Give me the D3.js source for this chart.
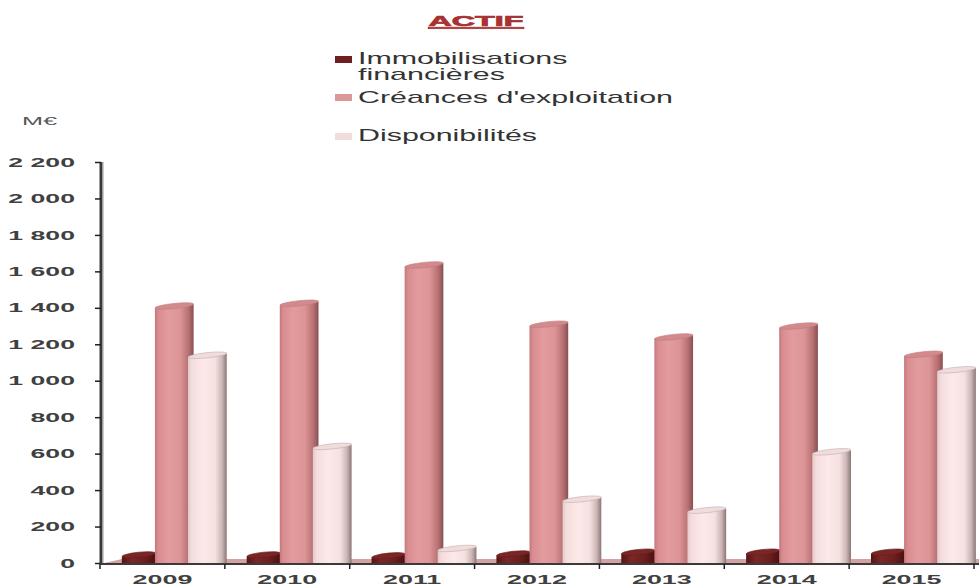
<!DOCTYPE html>
<html>
<head>
<meta charset="utf-8">
<script src="https://cdn.jsdelivr.net/npm/d3@7"></script>
<style>
  html, body { margin: 0; padding: 0; background: #fff; }
  svg { display: block; font-family: "Liberation Sans", Arial, sans-serif; }
</style>
</head>
<body>
<svg id="chart" width="979" height="586"></svg>
<script>
// Actif : trois postes par année (M€)
const years = ["2009", "2010", "2011", "2012", "2013", "2014", "2015"];
const immobilisations = [45, 45, 40, 50, 60, 60, 60];
const creances = [1410, 1425, 1635, 1310, 1240, 1300, 1145];
const disponibilites = [1140, 640, 80, 350, 290, 610, 1060];
const seriesNames = ["Immobilisations financières", "Créances d'exploitation", "Disponibilités"];
const yTicks = [0, 200, 400, 600, 800, 1000, 1200, 1400, 1600, 1800, 2000, 2200];

const svg = d3.select("#chart");
const defs = svg.append("defs");

const fr = d3.formatLocale({ decimal: ",", thousands: " ", grouping: [3], currency: ["", " €"] });
const fmt = fr.format(",");

const x = d3.scaleBand().domain(years).range([100, 974]);
const y = d3.scaleLinear().domain([0, 2200]).range([563, 162]);

// Horizontal shading that gives each column its cylinder look
const styles = [
  { id: "gImmo", stops: [[0, "#551414"], [0.3, "#7c2727"], [0.7, "#6b1e1e"], [1, "#4a1010"]],
    top: "#7a2626", rim: "#6a1d1d", off: 0.175, w: 0.27, swatch: "#6e2020" },
  { id: "gCre", stops: [[0, "#c27679"], [0.08, "#d98c8f"], [0.35, "#e39c9e"], [0.65, "#dc9496"], [0.86, "#b97274"], [1, "#8a4f51"]],
    top: "#d48a8c", rim: "#bf7b7d", off: 0.44, w: 0.31, swatch: "#dc9798" },
  { id: "gDis", stops: [[0, "#e4caca"], [0.1, "#f5dddd"], [0.4, "#fde9e9"], [0.7, "#f6e1e1"], [0.88, "#cdb5b5"], [1, "#8a7676"]],
    top: "#f1dcdc", rim: "#c4afaf", off: 0.705, w: 0.31, swatch: "#f3dcdc" }
];
styles.forEach(s => {
  const g = defs.append("linearGradient").attr("id", s.id)
    .attr("x1", "0%").attr("x2", "100%").attr("y1", "0%").attr("y2", "0%");
  s.stops.forEach(([o, c]) => g.append("stop").attr("offset", o).attr("stop-color", c));
});

// stretched text helper
function stretch(sel, sx) {
  sel.each(function () {
    const t = d3.select(this);
    const tx = +t.attr("x") || 0;
    const ty = +t.attr("y") || 0;
    t.attr("x", 0).attr("y", 0)
     .attr("transform", `translate(${tx},${ty}) scale(${sx},1)`);
  });
}

// Title
const title = svg.append("text").attr("x", 476).attr("y", 26)
  .attr("text-anchor", "middle").attr("font-size", 15).attr("font-weight", "bold")
  .attr("fill", "#a83232").attr("stroke", "#a83232").attr("stroke-width", 0.7)
  .attr("text-decoration", "underline").text("ACTIF");
stretch(title, 2.15);

// Legend
const legend = svg.append("g");
const legRows = [
  { sy: 56, lines: [["Immobilisations", 64], ["financières", 80]] },
  { sy: 94, lines: [["Créances d'exploitation", 103]] },
  { sy: 133, lines: [["Disponibilités", 141]] }
];
legRows.forEach((r, i) => {
  legend.append("rect").attr("x", 335).attr("y", r.sy).attr("width", 17).attr("height", 7)
    .attr("fill", styles[i].swatch);
  r.lines.forEach(([txt, by]) => {
    const t = legend.append("text").attr("x", 358).attr("y", by)
      .attr("font-size", 16).attr("fill", "#333").text(txt);
    stretch(t, 1.9);
  });
});

// Unit label
const unit = svg.append("text").attr("x", 22).attr("y", 125)
  .attr("font-size", 11).attr("fill", "#555").text("M€");
stretch(unit, 2.3);

// Floor
const bw = x.bandwidth();
svg.append("path")
  .attr("d", `M100,564 L979,564 L979,559 L122,559 Z`)
  .attr("fill", "#d3a2a3");

// Columns
const valuesBySeries = [immobilisations, creances, disponibilites];
const base = 563;
const cols = svg.append("g");
years.forEach((yr, i) => {
  styles.forEach((s, k) => {
    const v = valuesBySeries[k][i];
    const x0 = x(yr) + s.off * bw;
    const w = s.w * bw;
    const x1 = x0 + w;
    const yc = y(v);
    const tilt = 2;
    cols.append("path")
      .attr("d", `M${x0},${base} L${x0},${yc + tilt} L${x1},${yc - tilt} L${x1},${base} Z`)
      .attr("fill", `url(#${s.id})`);
    cols.append("ellipse")
      .attr("cx", (x0 + x1) / 2).attr("cy", yc)
      .attr("rx", w / 2).attr("ry", 2.6)
      .attr("transform", `rotate(-6,${(x0 + x1) / 2},${yc})`)
      .attr("fill", s.top).attr("stroke", s.rim).attr("stroke-width", 0.6);
  });
});

// Y axis
const yAxis = svg.append("g").attr("transform", "translate(101,0)")
  .call(d3.axisLeft(y).tickValues(yTicks).tickFormat(fmt).tickSize(6).tickPadding(20));
yAxis.select(".domain").attr("stroke", "#3a3a3a").attr("stroke-width", 3)
  .attr("d", `M0,${y(2200)}V564`);
yAxis.append("line").attr("x1", 2).attr("x2", 2).attr("y1", y(2200)).attr("y2", 564)
  .attr("stroke", "#9a9a9a").attr("stroke-width", 1);
yAxis.selectAll(".tick line").attr("stroke", "#222").attr("stroke-width", 1.5);
yAxis.selectAll(".tick text").attr("font-size", 13).attr("font-weight", "bold")
  .attr("fill", "#404040").attr("font-family", "Liberation Sans, Arial, sans-serif")
  .each(function () {
    const t = d3.select(this);
    const tx = +t.attr("x");
    t.attr("x", 0).attr("transform", `translate(${tx},0) scale(2.05,1)`);
  });

// X axis
const xAxis = svg.append("g").attr("transform", "translate(0,564)");
xAxis.append("line").attr("x1", 100).attr("x2", 979).attr("y1", 0).attr("y2", 0)
  .attr("stroke", "#3a3a3a").attr("stroke-width", 2);
const bounds = years.map(d => x(d)).concat([x.range()[1]]);
xAxis.selectAll("line.tk").data(bounds).join("line").attr("class", "tk")
  .attr("x1", d => d).attr("x2", d => d).attr("y1", 0).attr("y2", 5)
  .attr("stroke", "#222").attr("stroke-width", 1.5);
const xl = xAxis.selectAll("text.lab").data(years).join("text").attr("class", "lab")
  .attr("x", d => x(d) + bw / 2).attr("y", 20)
  .attr("text-anchor", "middle").attr("font-size", 13).attr("font-weight", "bold")
  .attr("fill", "#404040").text(d => d);
stretch(xl, 2.07);
</script>
</body>
</html>
